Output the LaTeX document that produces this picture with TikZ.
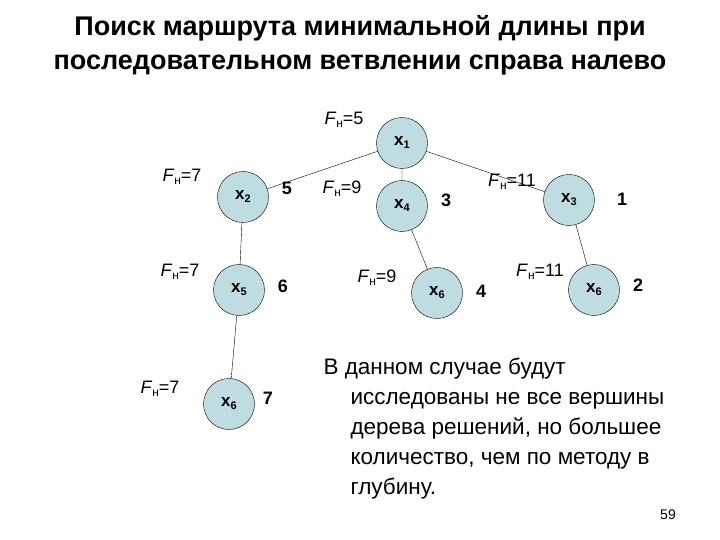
\documentclass[tikz,border=0pt]{standalone}
\usepackage{fontspec}
\setmainfont{Liberation Sans}
\newcommand{\myFn}{\textit{F}\raisebox{-3pt}{\fontsize{12}{12}\selectfont н}}
\newcommand{\mysub}[1]{\raisebox{-3pt}{\fontsize{11}{11}\selectfont #1}}
\begin{document}
\begin{tikzpicture}[x=1pt,y=-1pt,
  vert/.style={circle,draw=black,fill=vfill,minimum size=51pt,inner sep=0pt,font=\fontsize{17}{19}\selectfont\bfseries},
  lab/.style={font=\fontsize{18}{20}\selectfont},
  num/.style={font=\fontsize{18}{20}\selectfont\bfseries}]
\definecolor{vfill}{HTML}{BFDDE0}
\useasboundingbox (0,0) rectangle (720,540);
\node[font=\fontsize{27}{34}\selectfont\bfseries,align=center] (t) at (360,45) {Поиск маршрута минимальной длины при\\последовательном ветвлении справа налево};
\node[vert] (x1) at (402,143) {x\mysub{1}};
\node[vert] (x2) at (243,197) {x\mysub{2}};
\node[vert] (x4) at (402,206) {x\mysub{4}};
\node[vert] (x3) at (569,200) {x\mysub{3}};
\node[vert] (x5) at (239,290) {x\mysub{5}};
\node[vert] (x6a) at (437,293) {x\mysub{6}};
\node[vert] (x6b) at (594,290) {x\mysub{6}};
\node[vert] (x6c) at (229,404) {x\mysub{6}};
\draw (x1)--(x2) (x1)--(x4) (x1)--(x3) (x2)--(x5) (x5)--(x6c) (x4)--(x6a) (x3)--(x6b);
\node[lab] (l1) at (344,120) {\myFn=5};
\node[lab] (l2) at (182,177) {\myFn=7};
\node[num] (n5) at (287,188) {5};
\node[lab] (l3) at (342,189) {\myFn=9};
\node[num] (n3) at (446,200) {3};
\node[lab] (l4) at (512,182) {\myFn=11};
\node[num] (n1) at (622,199) {1};
\node[lab] (l5) at (180,272) {\myFn=7};
\node[num] (n6) at (283,286) {6};
\node[lab] (l6) at (377,278) {\myFn=9};
\node[num] (n4) at (481,291) {4};
\node[lab] (l7) at (540,272) {\myFn=11};
\node[num] (n2) at (638,285) {2};
\node[lab] (l8) at (160,389) {\myFn=7};
\node[num] (n7) at (268,398) {7};
\node[font=\fontsize{22.5}{30}\selectfont,align=left,anchor=north west] (txt) at (320,354) {В данном случае будут\\\hspace*{27pt}исследованы не все вершины\\\hspace*{27pt}дерева решений, но большее\\\hspace*{27pt}количество, чем по методу в\\\hspace*{27pt}глубину.};
\node[font=\fontsize{14}{16}\selectfont] (pg) at (668,515) {59};
\end{tikzpicture}
\end{document}
